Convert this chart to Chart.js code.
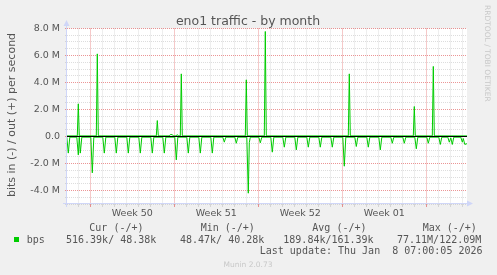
<!DOCTYPE html>
<html>
<head>
<meta charset="utf-8">
<script src="https://cdn.jsdelivr.net/npm/chart.js@4.4.1/dist/chart.umd.min.js"></script>
<style>
  html, body { margin: 0; padding: 0; background: #f0f0f0; }
  canvas { display: block; }
</style>
</head>
<body>
<canvas id="traffic" width="497" height="275"></canvas>
<script>
// x = hours since Mon 8 Dec 2025 00:00, y = Mbit/s (in is drawn negative)
const outHours = [-47, -26, -24, -22, 12, 14, 16, 132, 134, 136, 158, 160, 164, 166, 172, 174, 176,
    180, 182, 184, 310, 312, 314, 348, 350, 352, 516, 518, 520, 646, 648, 650, 684, 686, 688, 754];
const outMbps = [0.045, 0.045, 2.42, 0.045, 0.045, 6.12, 0.045, 0.045, 1.18, 0.045, 0.045, 0.14, 0.14, 0.045, 0.045, 0.14, 0.045,
    0.045, 4.64, 0.045, 0.045, 4.2, 0.045, 0.045, 7.78, 0.045, 0.045, 4.64, 0.045, 0.045, 2.22, 0.045, 0.045, 5.19, 0.045, 0.045];

const inHours = [
    -47, -44, -41, -27, -24, -22, -20, -17, 1, 4, 7,
    25, 28, 31, 49, 52, 55, 73, 76, 79, 97, 100, 103, 121, 124, 127,
    145, 148, 151, 169, 172, 175, 193, 196, 199, 217, 220, 223, 241, 244, 247,
    265, 268, 271, 289, 292, 295, 313, 316, 318, 320, 337, 340, 343,
    361, 364, 367, 385, 388, 391, 409, 412, 415, 433, 436, 439, 457, 460, 463,
    481, 484, 487, 505, 508, 511, 529, 532, 535, 553, 556, 559, 577, 580, 583,
    601, 604, 607, 625, 628, 631, 649, 652, 655, 673, 676, 679, 697, 700, 703,
    715, 718, 721, 724, 727, 741, 744, 746, 749, 754];
const inMbps = [
    -0.05, -1.23, -0.05, -0.05, -1.36, -0.05, -1.23, -0.05, -0.05, -2.69, -0.05,
    -0.05, -1.23, -0.05, -0.05, -1.23, -0.05, -0.05, -1.23, -0.05, -0.05, -1.23, -0.05, -0.05, -1.23, -0.05,
    -0.05, -1.23, -0.05, -0.05, -1.73, -0.05, -0.05, -1.23, -0.05, -0.05, -1.23, -0.05, -0.05, -1.23, -0.05,
    -0.05, -0.42, -0.05, -0.05, -0.5, -0.05, -0.05, -4.2, -0.45, -0.05, -0.05, -0.47, -0.05,
    -0.05, -1.16, -0.05, -0.05, -0.79, -0.05, -0.05, -0.99, -0.05, -0.05, -0.79, -0.05, -0.05, -0.79, -0.05,
    -0.05, -0.79, -0.05, -0.05, -2.2, -0.05, -0.05, -0.74, -0.05, -0.05, -0.79, -0.05, -0.05, -0.99, -0.05,
    -0.05, -0.5, -0.05, -0.05, -0.5, -0.05, -0.05, -0.91, -0.05, -0.05, -0.5, -0.05, -0.05, -0.59, -0.05,
    -0.05, -0.42, -0.1, -0.59, -0.05, -0.05, -0.42, -0.15, -0.59, -0.52];

const weekStarts = [0, 168, 336, 504, 672];
const weekLabels = ['Week 50', 'Week 51', 'Week 52', 'Week 01'];
const yLabelTicks = [-4, -2, 0, 2, 4, 6, 8];

const legendHeaders = ['Cur (-/+)', 'Min (-/+)', 'Avg (-/+)', 'Max (-/+)'];
const legendValues = ['516.39k/ 48.38k', '48.47k/ 40.28k', '189.84k/161.39k', '77.11M/122.09M'];
const lastUpdate = 'Last update: Thu Jan  8 07:00:05 2026';

const GREEN = '#00cc00';
const GRID = 'rgba(170,170,170,0.4)';
const MGRID = 'rgba(222,79,79,0.6)';
const AXIS = '#cfd6f8';
const TEXT = '#555555';

Chart.defaults.font.family = 'DejaVu Sans';

// week labels sit in the middle of each week
const labelHours = weekStarts.slice(0, 4).map(h => h + 84);
const dayHours = [];
for (let h = -24; h <= 744; h += 24) dayHours.push(h);

const toPoints = (xs, ys) => xs.map((x, i) => ({ x: x, y: ys[i] }));

const muninPlugin = {
    id: 'munin',
    beforeDraw(chart) {
        const { ctx, chartArea: a } = chart;
        ctx.save();
        ctx.fillStyle = '#f0f0f0';
        ctx.fillRect(0, 0, chart.width, chart.height);
        ctx.fillStyle = '#ffffff';
        ctx.fillRect(a.left, a.top, a.right - a.left, a.bottom - a.top);
        ctx.restore();
    },
    afterDatasetsDraw(chart) {
        const { ctx, chartArea: a } = chart;
        const y0 = Math.round(chart.scales.y.getPixelForValue(0) - 0.5) + 0.5;
        ctx.save();
        ctx.strokeStyle = '#000000';
        ctx.lineWidth = 1;
        ctx.beginPath();
        ctx.moveTo(a.left, y0);
        ctx.lineTo(a.right, y0);
        ctx.stroke();

        // axes with arrows
        ctx.strokeStyle = AXIS;
        ctx.fillStyle = AXIS;
        ctx.beginPath();
        ctx.moveTo(63, 203.5);
        ctx.lineTo(469, 203.5);
        ctx.moveTo(66.5, 207);
        ctx.lineTo(66.5, 24);
        ctx.stroke();
        ctx.beginPath();
        ctx.moveTo(467, 200.5);
        ctx.lineTo(473, 203.5);
        ctx.lineTo(467, 206.5);
        ctx.closePath();
        ctx.fill();
        ctx.beginPath();
        ctx.moveTo(63.5, 26);
        ctx.lineTo(66.5, 20);
        ctx.lineTo(69.5, 26);
        ctx.closePath();
        ctx.fill();
        ctx.restore();
    },
    afterDraw(chart) {
        const ctx = chart.ctx;
        ctx.save();
        ctx.fillStyle = TEXT;
        ctx.textBaseline = 'alphabetic';

        ctx.font = '12.5px "DejaVu Sans"';
        ctx.textAlign = 'center';
        ctx.fillText('eno1 traffic - by month', 248, 25);

        ctx.save();
        ctx.translate(15, 115);
        ctx.rotate(-Math.PI / 2);
        ctx.font = '11px "DejaVu Sans"';
        ctx.fillText('bits in (-) / out (+) per second', 0, 0);
        ctx.restore();

        ctx.save();
        ctx.fillStyle = '#c8c8c8';
        ctx.translate(485, 5);
        ctx.rotate(Math.PI / 2);
        ctx.font = '7.5px "DejaVu Sans"';
        ctx.textAlign = 'left';
        ctx.fillText('RRDTOOL / TOBI OETIKER', 0, 0);
        ctx.restore();

        // legend
        ctx.font = '10px "DejaVu Sans Mono"';
        ctx.textAlign = 'left';
        const headX = [89.3, 200.7, 312.3, 422.7];
        const valX = [66, 180, 283.3, 397];
        legendHeaders.forEach((t, i) => ctx.fillText(t, headX[i], 231));
        ctx.fillText('bps', 26.7, 242.5);
        legendValues.forEach((t, i) => ctx.fillText(t, valX[i], 242.5));
        ctx.textAlign = 'right';
        ctx.fillText(lastUpdate, 482.5, 253.5);

        ctx.fillStyle = GREEN;
        ctx.fillRect(14, 237, 5, 5);

        ctx.fillStyle = '#c8c8c8';
        ctx.font = '7.5px "DejaVu Sans"';
        ctx.textAlign = 'center';
        ctx.fillText('Munin 2.0.73', 248, 267);
        ctx.restore();
    }
};

const xGridColor = (c) => {
    const v = c.tick ? c.tick.value : null;
    if (weekStarts.includes(v)) return MGRID;
    if (labelHours.includes(v)) return 'rgba(0,0,0,0)';
    return GRID;
};
const yGridColor = (c) => {
    const v = c.tick ? c.tick.value : null;
    return yLabelTicks.includes(v) ? MGRID : GRID;
};

new Chart(document.getElementById('traffic'), {
    type: 'line',
    data: {
        datasets: [
            { label: 'out', data: toPoints(outHours, outMbps), borderColor: GREEN, borderWidth: 1, pointRadius: 0, tension: 0, fill: false },
            { label: 'in', data: toPoints(inHours, inMbps), borderColor: GREEN, borderWidth: 1, pointRadius: 0, tension: 0, fill: false }
        ]
    },
    options: {
        responsive: false,
        animation: false,
        devicePixelRatio: 1,
        events: [],
        layout: { padding: { top: 28.5, right: 30, left: 0, bottom: 0 } },
        plugins: { legend: { display: false }, tooltip: { enabled: false }, title: { display: false } },
        scales: {
            x: {
                type: 'linear',
                min: -46.6,
                max: 753.4,
                afterBuildTicks: s => {
                    s.ticks = dayHours.concat(labelHours).sort((a, b) => a - b).map(v => ({ value: v }));
                },
                afterFit: s => { s.height = 71; },
                ticks: {
                    autoSkip: false,
                    maxRotation: 0,
                    minRotation: 0,
                    padding: 1,
                    color: TEXT,
                    font: { size: 9.5 },
                    callback: v => {
                        const i = labelHours.indexOf(v);
                        return i >= 0 ? weekLabels[i] : '';
                    }
                },
                grid: { color: xGridColor, tickColor: xGridColor, lineWidth: 1, tickLength: 3 },
                border: { display: false, dash: [1, 1] }
            },
            y: {
                type: 'linear',
                min: -5,
                max: 8,
                afterBuildTicks: s => {
                    const t = [];
                    for (let v = -5; v <= 8; v += 0.5) t.push({ value: v });
                    s.ticks = t;
                },
                afterFit: s => { s.width = 67; },
                ticks: {
                    autoSkip: false,
                    padding: 5,
                    color: TEXT,
                    font: { size: 9.5 },
                    callback: v => yLabelTicks.includes(v) ? (v === 0 ? '0.0' : v.toFixed(1) + ' M') : ''
                },
                grid: { color: yGridColor, tickColor: yGridColor, lineWidth: 1, tickLength: 2 },
                border: { display: false, dash: [1, 1] }
            }
        }
    },
    plugins: [muninPlugin]
});
</script>
</body>
</html>
